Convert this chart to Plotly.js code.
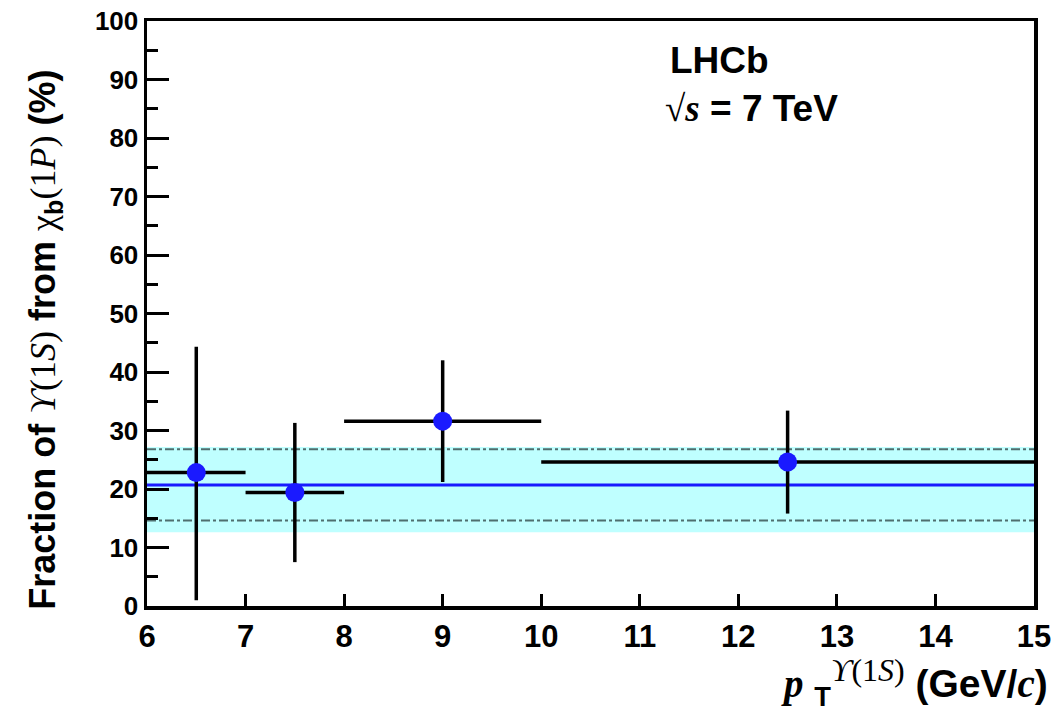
<!DOCTYPE html>
<html>
<head>
<meta charset="utf-8">
<script src="https://cdn.plot.ly/plotly-3.0.1.min.js"></script>
<style>html,body{margin:0;padding:0;background:#fff;}</style>
</head>
<body>
<div id="plot" style="width:1059px;height:715px;"></div>
<script>
// ---- data ----
const binLow  = [6, 7, 8, 10];
const binHigh = [7, 8, 10, 15];
const fraction = [22.8, 19.4, 31.6, 24.6];
const errUp    = [21.5, 11.9, 10.4, 8.8];
const errDown  = [21.8, 11.9, 10.4, 8.8];

const fitRange   = [6, 15];
const fitValue   = 20.7;
const bandLow    = 12.6;
const bandHigh   = 27.2;
const dashLow    = 14.6;
const dashHigh   = 26.8;

const xTicks = [6, 7, 8, 9, 10, 11, 12, 13, 14, 15];
const yTicks = [0, 10, 20, 30, 40, 50, 60, 70, 80, 90, 100];

// ---- build traces ----
const centers = binLow.map((lo, i) => (lo + binHigh[i]) / 2);
const halfW = binLow.map((lo, i) => (binHigh[i] - lo) / 2);
const serif = "font-family:'Liberation Serif';font-weight:normal";
const serifB = "font-family:'Liberation Serif';font-weight:bold";

const traces = [
  { x: fitRange, y: fitRange.map(() => bandLow), mode: 'lines', line: {width: 0, color: 'rgba(0,0,0,0)'}, hoverinfo: 'skip', showlegend: false },
  { x: fitRange, y: fitRange.map(() => bandHigh), mode: 'lines', fill: 'tonexty', fillcolor: '#bfffff', line: {width: 0, color: 'rgba(0,0,0,0)'}, hoverinfo: 'skip', showlegend: false },
  { x: fitRange, y: fitRange.map(() => dashHigh), mode: 'lines', line: {width: 2, color: '#4f6e6e', dash: 'dashdot'}, showlegend: false },
  { x: fitRange, y: fitRange.map(() => dashLow), mode: 'lines', line: {width: 2, color: '#4f6e6e', dash: 'dashdot'}, showlegend: false },
  { x: fitRange, y: fitRange.map(() => fitValue), mode: 'lines', line: {width: 3, color: '#1a1aff'}, showlegend: false },
  {
    x: centers, y: fraction, mode: 'markers',
    marker: {size: 19, color: '#1a1aff'},
    error_x: {type: 'data', symmetric: true, array: halfW, color: '#000', thickness: 3.5, width: 0},
    error_y: {type: 'data', symmetric: false, array: errUp, arrayminus: errDown, color: '#000', thickness: 3.5, width: 0},
    showlegend: false
  }
];

const tickFont = {family: 'Liberation Sans, Arial, sans-serif', weight: 'bold', color: '#000'};

const layout = {
  width: 1059, height: 715,
  margin: {l: 147, r: 25, t: 21, b: 109},
  paper_bgcolor: '#fff', plot_bgcolor: '#fff',
  showlegend: false,
  xaxis: {
    range: [6, 15], tickvals: xTicks, ticktext: xTicks.map(String),
    ticks: 'inside', ticklen: 12, tickwidth: 3, tickcolor: '#000',
    showline: true, linewidth: 3.5, linecolor: '#000', mirror: true,
    showgrid: false, zeroline: false,
    tickfont: Object.assign({size: 31}, tickFont)
  },
  yaxis: {
    range: [0, 100], tickvals: yTicks, ticktext: yTicks.map(String),
    ticks: 'inside', ticklen: 22, tickwidth: 3, tickcolor: '#000',
    minor: {dtick: 5, ticks: 'inside', ticklen: 11, tickwidth: 3, tickcolor: '#000'},
    showline: true, linewidth: 3.5, linecolor: '#000', mirror: true,
    showgrid: false, zeroline: false,
    tickfont: Object.assign({size: 26}, tickFont)
  },
  annotations: [
    {
      xref: 'paper', yref: 'paper', x: -0.115, y: 0.455, textangle: -90,
      showarrow: false, xanchor: 'center', yanchor: 'middle',
      font: {family: 'Liberation Sans, Arial, sans-serif', size: 36, weight: 'bold', color: '#000'},
      text: 'Fraction of <span style="' + serif + ';font-style:italic">ϒ</span><span style="' + serif + '">(1<i>S</i>)</span> from <span style="' + serif + '">χ</span><sub>b</sub><span style="' + serif + '">(1<i>P</i>)</span> (%)'
    },
    {
      xref: 'paper', yref: 'paper', x: 1.018, y: -0.13,
      showarrow: false, xanchor: 'right', yanchor: 'middle',
      font: {family: 'Liberation Sans, Arial, sans-serif', size: 39, weight: 'bold', color: '#000'},
      text: '<span style="' + serifB + '"><i>p</i></span> <sub>T</sub><sup><span style="' + serif + ';font-size:32px"><i>ϒ</i>(1<i>S</i>)</span></sup> (GeV/<span style="' + serifB + '"><i>c</i></span>)'
    },
    {
      xref: 'paper', yref: 'paper', x: 0.587, y: 0.933,
      showarrow: false, xanchor: 'left', yanchor: 'middle',
      font: {family: 'Liberation Sans, Arial, sans-serif', size: 37, weight: 'bold', color: '#000'},
      text: 'LHCb'
    },
    {
      xref: 'paper', yref: 'paper', x: 0.582, y: 0.851,
      showarrow: false, xanchor: 'left', yanchor: 'middle',
      font: {family: 'Liberation Sans, Arial, sans-serif', size: 37, weight: 'bold', color: '#000'},
      text: '<span style="' + serifB + '">√<i>s</i></span> = 7 TeV'
    }
  ]
};

Plotly.newPlot('plot', traces, layout, {staticPlot: true, displayModeBar: false});
</script>
</body>
</html>
